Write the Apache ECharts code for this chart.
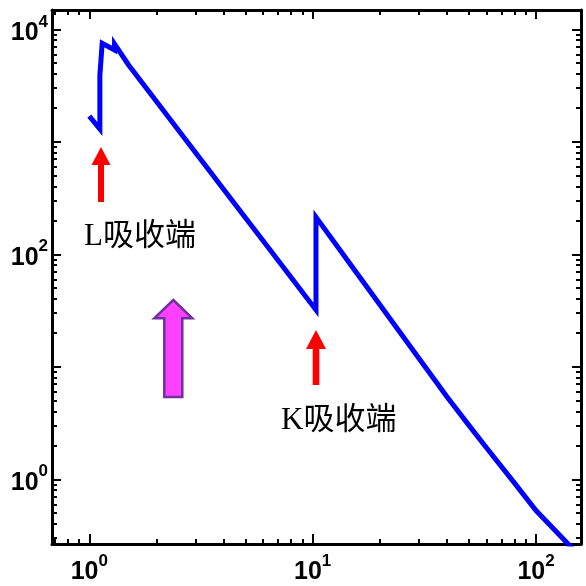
<!DOCTYPE html>
<html>
<head>
<meta charset="utf-8">
<script src="https://cdn.jsdelivr.net/npm/echarts@6/dist/echarts.min.js"></script>
<style>
html,body{margin:0;padding:0;background:#fff;}
#c{width:586px;height:586px;}
</style>
</head>
<body>
<div id="c"></div>
<script>
// Photon energy (keV)
var energy = [1.0, 1.1154, 1.1154, 1.1423, 1.2977, 1.2977, 1.5, 2, 3, 4, 5, 6, 8, 10.35, 10.35, 15, 20, 30, 40, 50, 60, 80, 100, 150];
// Mass attenuation coefficient (cm^2/g)
var mu = [1690, 1300, 3900, 7500, 6550, 7400, 4820, 2280, 797, 377, 211, 132, 62.5, 32, 214, 78, 35.6, 11.8, 5.38, 3.03, 1.91, 0.93, 0.528, 0.228];

var xMajorTicks = [1, 10, 100];
var xMinorTicks = [0.7, 0.8, 0.9, 2, 3, 4, 5, 6, 7, 8, 9, 20, 30, 40, 50, 60, 70, 80, 90];
var yMajorTicks = [1, 10, 100, 1000, 10000];
var yLabelTicks = [1, 100, 10000];
var yMinorTicks = [0.3, 0.4, 0.5, 0.6, 0.7, 0.8, 0.9, 2, 3, 4, 5, 6, 7, 8, 9, 20, 30, 40, 50, 60, 70, 80, 90,
                   200, 300, 400, 500, 600, 700, 800, 900, 2000, 3000, 4000, 5000, 6000, 7000, 8000, 9000];
var annotations = ['L吸收端', 'K吸收端'];

var X_MIN = 0.681, X_MAX = 159, Y_MIN = 0.266, Y_MAX = 14850;

function powLabel(v) {
  var e = Math.round(Math.log(v) / Math.LN10);
  return '{b|10}{s|' + e + '}';
}
var richLab = {
  b: {fontSize: 25, fontWeight: 'bold', fontFamily: 'Liberation Sans', color: '#000', lineHeight: 32, verticalAlign: 'bottom'},
  s: {fontSize: 17, fontWeight: 'bold', fontFamily: 'Liberation Sans', color: '#000', lineHeight: 17, verticalAlign: 'top'}
};
var lineSty = {color: '#000', width: 3};

function xAx(gi, pos, ticks, len, labels) {
  return {
    type: 'log', logBase: 10, gridIndex: gi, position: pos, min: X_MIN, max: X_MAX,
    axisLine: {show: gi === 0, onZero: false, lineStyle: lineSty},
    axisTick: {show: true, inside: true, length: len, customValues: ticks, lineStyle: {color: '#000', width: 2}},
    axisLabel: labels ? {show: true, customValues: labels, formatter: powLabel, rich: richLab, margin: 9} : {show: false},
    splitLine: {show: false}, minorTick: {show: false}
  };
}
function yAx(gi, pos, ticks, len, labels) {
  return {
    type: 'log', logBase: 10, gridIndex: gi, position: pos, min: Y_MIN, max: Y_MAX,
    axisLine: {show: gi === 0, onZero: false, lineStyle: lineSty},
    axisTick: {show: true, inside: true, length: len, customValues: ticks, lineStyle: {color: '#000', width: 2}},
    axisLabel: labels ? {show: true, customValues: labels, formatter: powLabel, rich: richLab, margin: 4} : {show: false},
    splitLine: {show: false}, minorTick: {show: false}
  };
}

var gridRect = {left: 52, right: 5, top: 10, bottom: 42};
var chart = echarts.init(document.getElementById('c'), null, {renderer: 'canvas'});
var seriesData = energy.map(function (e, i) { return [e, mu[i]]; });
var annFont = '31px "Liberation Serif", "Noto Sans CJK SC"';

chart.setOption({
  animation: false,
  backgroundColor: '#fff',
  grid: [Object.assign({}, gridRect), Object.assign({}, gridRect)],
  xAxis: [
    xAx(0, 'bottom', xMajorTicks, 10, xMajorTicks),
    xAx(0, 'top', xMajorTicks, 9, null),
    xAx(1, 'bottom', xMinorTicks, 5, null),
    xAx(1, 'top', xMinorTicks, 5, null)
  ],
  yAxis: [
    yAx(0, 'left', yMajorTicks, 9, yLabelTicks),
    yAx(0, 'right', yMajorTicks, 9, null),
    yAx(1, 'left', yMinorTicks, 5, null),
    yAx(1, 'right', yMinorTicks, 5, null)
  ],
  series: [{
    type: 'line', xAxisIndex: 0, yAxisIndex: 0, data: seriesData,
    showSymbol: false, symbol: 'none', clip: true,
    lineStyle: {color: '#0000ff', width: 5, join: 'miter'}
  }],
  graphic: [
    {type: 'polygon', shape: {points: [[101,147],[110.5,165],[104,165],[104,202],[98,202],[98,165],[91.5,165]]}, style: {fill: '#ff0000'}},
    {type: 'polygon', shape: {points: [[316,330],[326,349],[319.3,349],[319.3,385],[312.7,385],[312.7,349],[306,349]]}, style: {fill: '#ff0000'}},
    {type: 'polygon', shape: {points: [[173.3,300],[192.3,318.3],[182.3,318.3],[182.3,397],[164.3,397],[164.3,318.3],[154.3,318.3]]}, style: {fill: '#ff40ff', stroke: '#7030a0', lineWidth: 2.5}},
    {type: 'text', left: 84, top: 221, style: {text: annotations[0], font: annFont, fill: '#000'}},
    {type: 'text', left: 281, top: 405, style: {text: annotations[1], font: annFont, fill: '#000'}}
  ]
});
</script>
</body>
</html>
